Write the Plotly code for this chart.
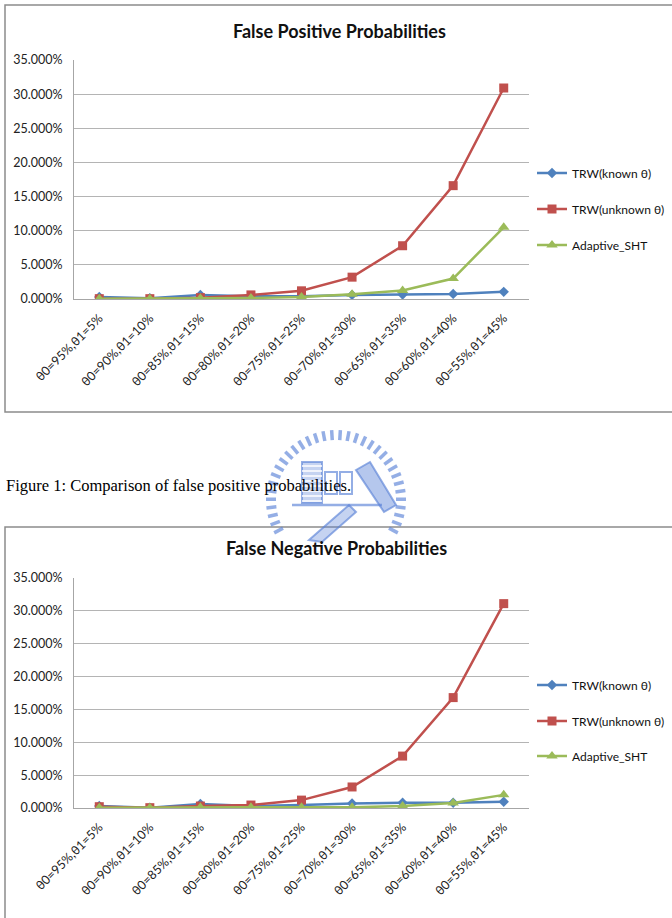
import math
import plotly.graph_objects as go

# ---------------- data ----------------
categories = ["θ0=95%,θ1=5%", "θ0=90%,θ1=10%", "θ0=85%,θ1=15%", "θ0=80%,θ1=20%",
              "θ0=75%,θ1=25%", "θ0=70%,θ1=30%", "θ0=65%,θ1=35%", "θ0=60%,θ1=40%",
              "θ0=55%,θ1=45%"]
series_names = ["TRW(known θ)", "TRW(unknown θ)", "Adaptive_SHT"]

fp_known = [0.003, 0.001, 0.006, 0.004, 0.004, 0.006, 0.0065, 0.0075, 0.0105]
fp_unknown = [0.0005, 0.0005, 0.002, 0.006, 0.012, 0.032, 0.078, 0.166, 0.309]
fp_adaptive = [0.0003, 0.0003, 0.001, 0.0015, 0.003, 0.007, 0.0125, 0.030, 0.105]

fn_known = [0.003, 0.0005, 0.006, 0.003, 0.0045, 0.007, 0.008, 0.008, 0.0095]
fn_unknown = [0.002, 0.0005, 0.003, 0.0045, 0.012, 0.032, 0.079, 0.168, 0.311]
fn_adaptive = [0.0005, 0.0003, 0.001, 0.001, 0.001, 0.001, 0.003, 0.0075, 0.020]

y_ticks = [0, 0.05, 0.10, 0.15, 0.20, 0.25, 0.30, 0.35]

# ---------------- styling ----------------
W, H = 672, 918
colors = ["#4F81BD", "#C0504D", "#9BBB59"]
symbols = ["diamond", "square", "triangle-up"]
msizes = [8, 9, 10]
FONT = "Lato, Carlito, 'Open Sans', sans-serif"


def px(x):
    return x / W


def py(y):
    return 1 - y / H


fig = go.Figure()

charts = [
    dict(data=[fp_known, fp_unknown, fp_adaptive], xa="x", ya="y",
         legend_y=[173, 209, 245], lg=["legend", "legend2", "legend3"]),
    dict(data=[fn_known, fn_unknown, fn_adaptive], xa="x2", ya="y2",
         legend_y=[685, 721, 756], lg=["legend4", "legend5", "legend6"]),
]

for ch in charts:
    for i, vals in enumerate(ch["data"]):
        fig.add_trace(go.Scatter(
            x=categories, y=vals, name=series_names[i], mode="lines+markers",
            xaxis=ch["xa"], yaxis=ch["ya"], legend=ch["lg"][i], showlegend=True,
            line=dict(color=colors[i], width=2.5),
            marker=dict(symbol=symbols[i], size=msizes[i], color=colors[i]),
        ))

axis_common_x = dict(type="category", range=[-0.5, 8.5], tickangle=-45,
                     showline=True, linecolor="#A6A6A6", linewidth=1,
                     showgrid=False, zeroline=False, ticks="", automargin=False,
                     ticklabelstandoff=6,
                     tickfont=dict(family=FONT, size=12.5, color="#222"))
axis_common_y = dict(range=[0, 0.35], tickvals=y_ticks, tickformat=".3%",
                     showline=True, linecolor="#A6A6A6", linewidth=1,
                     showgrid=True, gridcolor="#B4B4B4", gridwidth=1,
                     zeroline=False, ticks="", ticklabelstandoff=8, automargin=False,
                     tickfont=dict(family=FONT, size=12.5, color="#222"))

layout = dict(
    template="none",
    width=W, height=H, autosize=False,
    margin=dict(l=0, r=0, t=0, b=0, pad=0),
    paper_bgcolor="white", plot_bgcolor="white",
    showlegend=True,
    xaxis=dict(axis_common_x, domain=[px(74), px(529)], anchor="y"),
    yaxis=dict(axis_common_y, domain=[py(299), py(60)], anchor="x"),
    xaxis2=dict(axis_common_x, domain=[px(74), px(529)], anchor="y2"),
    yaxis2=dict(axis_common_y, domain=[py(808), py(578)], anchor="x2"),
)

for ch in charts:
    for i, lg in enumerate(ch["lg"]):
        layout[lg] = dict(x=px(532), y=py(ch["legend_y"][i]), xanchor="left", yanchor="middle",
                          bgcolor="rgba(0,0,0,0)", borderwidth=0, visible=True,
                          font=dict(family=FONT, size=12, color="#111"))

fig.update_layout(**layout)

# ---------------- chart frames ----------------
shapes = [
    dict(type="rect", xref="paper", yref="paper", x0=px(5), x1=px(676), y0=py(412), y1=py(5),
         line=dict(color="#8C8C8C", width=1.5), layer="below"),
    dict(type="rect", xref="paper", yref="paper", x0=px(5), x1=px(676), y0=py(930), y1=py(527),
         line=dict(color="#8C8C8C", width=1.5), layer="below"),
]

# ---------------- watermark (decorative emblem) ----------------
wm = "rgba(90,130,215,0.65)"
cx, cy = 336, 500
for k in range(34):
    a = math.radians(-28 + k * (236 / 33))
    r0, r1 = 60, 70
    shapes.append(dict(type="line", xref="paper", yref="paper",
                       x0=px(cx + r0 * math.cos(a)), y0=py(cy - r0 * math.sin(a)),
                       x1=px(cx + r1 * math.cos(a)), y1=py(cy - r1 * math.sin(a)),
                       line=dict(color=wm, width=3.5), layer="below"))
ox = cx - 332
shapes.append(dict(type="rect", xref="paper", yref="paper", x0=px(298 + ox), x1=px(318 + ox),
                   y0=py(503), y1=py(462), line=dict(color=wm, width=2),
                   fillcolor="rgba(90,130,215,0.35)", layer="below"))
for yy in range(466, 502, 5):
    shapes.append(dict(type="line", xref="paper", yref="paper", x0=px(298 + ox), x1=px(318 + ox),
                       y0=py(yy), y1=py(yy), line=dict(color="white", width=1.5), layer="below"))
shapes.append(dict(type="rect", xref="paper", yref="paper", x0=px(321 + ox), x1=px(333 + ox),
                   y0=py(494), y1=py(472), line=dict(color=wm, width=2), layer="below"))
shapes.append(dict(type="rect", xref="paper", yref="paper", x0=px(336 + ox), x1=px(348 + ox),
                   y0=py(494), y1=py(472), line=dict(color=wm, width=2), layer="below"))
shapes.append(dict(type="path", xref="paper", yref="paper",
                   path=f"M {px(352 + ox)} {py(470)} L {px(366 + ox)} {py(462)} L {px(392 + ox)} {py(505)} "
                        f"L {px(380 + ox)} {py(512)} Z",
                   line=dict(color=wm, width=2), fillcolor="rgba(90,130,215,0.45)", layer="below"))
shapes.append(dict(type="path", xref="paper", yref="paper",
                   path=f"M {px(305 + ox)} {py(540)} L {px(345 + ox)} {py(505)} L {px(352 + ox)} {py(512)} "
                        f"L {px(318 + ox)} {py(542)} Z",
                   line=dict(color=wm, width=2), fillcolor="rgba(90,130,215,0.35)", layer="below"))
shapes.append(dict(type="line", xref="paper", yref="paper", x0=px(288 + ox), x1=px(378 + ox),
                   y0=py(505), y1=py(505), line=dict(color=wm, width=2.5), layer="below"))

fig.update_layout(shapes=shapes)

# ---------------- texts ----------------
annotations = [
    dict(text="False Positive Probabilities", x=px(339), y=py(31), xref="paper", yref="paper",
         showarrow=False, xanchor="center", yanchor="middle",
         font=dict(family=FONT, size=18, color="#111", weight="bold")),
    dict(text="False Negative Probabilities", x=px(336), y=py(548), xref="paper", yref="paper",
         showarrow=False, xanchor="center", yanchor="middle",
         font=dict(family=FONT, size=18, color="#111", weight="bold")),
    dict(text="Figure 1: Comparison of false positive probabilities.", x=px(4), y=py(485),
         xref="paper", yref="paper", showarrow=False, xanchor="left", yanchor="middle",
         font=dict(family="'Liberation Serif', 'Times New Roman', serif", size=16.5, color="#000")),
]
fig.update_layout(annotations=annotations)

fig.write_html("out.html")
